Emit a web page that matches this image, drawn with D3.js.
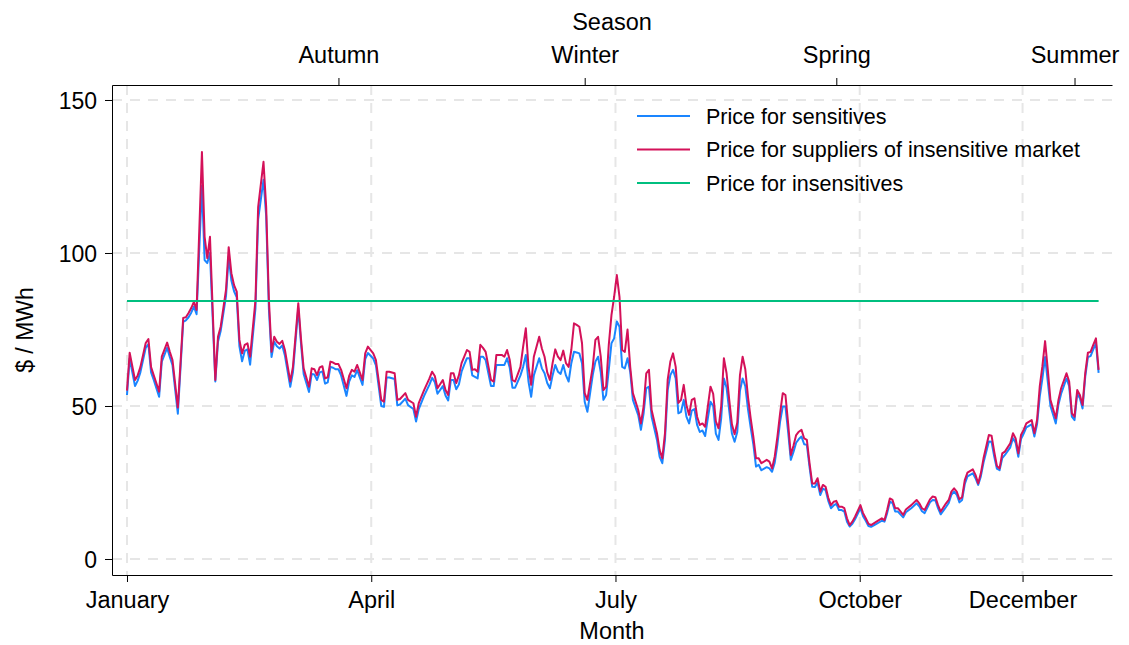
<!DOCTYPE html>
<html><head><meta charset="utf-8">
<script src="https://cdn.jsdelivr.net/npm/d3@7"></script>
<style>body{margin:0;background:#fff} text{font-family:"Liberation Sans",Arial,Helvetica,sans-serif;fill:#000}</style>
</head><body><svg id="c" width="1129" height="645"></svg>
<script>
const days = [0,1,3,4,5,7,8,9,10,12,13,15,16,17,19,21,22,23,24,25,26,28,29,30,31,33,34,35,37,38,39,40,41,42,43,44,45,46,48,49,51,52,53,54,55,56,57,58,59,61,62,64,65,66,68,69,70,71,72,73,74,75,76,77,78,79,80,82,83,84,85,86,88,89,90,92,93,95,96,97,98,100,101,102,104,105,107,108,109,111,113,114,115,116,118,119,120,121,122,123,124,125,126,127,128,129,130,131,132,133,134,136,137,138,140,141,142,143,144,145,147,148,149,150,151,152,154,155,156,157,158,159,160,161,162,163,164,165,166,167,168,169,170,171,172,174,175,176,177,178,179,180,181,182,183,184,185,186,187,188,189,191,192,193,194,195,196,198,199,200,201,202,203,204,205,206,207,208,209,210,211,212,213,214,215,216,217,218,219,220,221,222,223,224,225,226,227,228,229,230,231,232,233,234,235,236,237,239,240,241,242,243,244,245,246,247,248,249,250,251,252,253,254,255,256,257,258,259,260,261,262,263,264,265,266,267,268,269,270,271,272,274,275,276,277,278,280,282,283,284,285,286,287,288,290,291,293,295,296,297,298,300,301,302,303,304,306,307,308,309,310,311,312,313,314,316,317,318,319,320,322,323,324,325,326,327,328,330,331,332,333,334,335,336,338,339,340,341,342,343,344,345,347,348,349,351,352,353,354,355,356,357,358,359,360,361,362,363];
const suppliers = [55,67.4,58.5,60,62.7,70.6,71.9,62.7,60,54.7,66.1,70.7,67.7,65,49.5,78.8,79,80.4,82,84,81.4,133,105.3,98.3,105.3,58.5,72.6,75.9,88,101.9,93.4,89.5,87.4,71.6,67.2,70,70.5,66.1,84.6,115,129.8,115,85,67.7,72.6,71,70.3,71.3,68.3,58,62.8,83.6,72,62.3,56.3,62.3,62,60.1,62.6,63,59,59.4,64.5,64.2,63.7,63.7,61.8,55.8,59.8,61.8,61.2,63.4,58.5,67.2,69.4,67.2,65,52,51.4,61.2,61.2,60.7,52,52.3,54.2,52,50.9,46.5,50.9,55.2,59,61.2,59.8,55.8,58.5,55.2,53.6,60.7,60.7,57.5,60,64,66.1,68.3,67.7,61.8,62,61.2,70,69,67.7,58.5,58,66.7,66.7,66.1,68.3,65,58.5,58,62.8,69.4,75.4,62.8,56.9,66.1,72.6,68.8,66.1,61,58.5,64,68.5,66.1,65,68.1,64,62.8,68.3,77,76.5,75.9,70.5,54.2,52,62.8,71.6,72.6,66.1,55.2,56.3,70,79.7,85.7,92.8,85.7,68.3,67.7,75,62.8,54.2,48.7,44.3,49.8,60.7,61.8,48.7,41.1,35.6,32.9,41.1,58.5,64.5,67.2,62.8,51,52,56.9,50.3,47.1,52,52.5,46.5,43.8,44.3,43.2,49.8,56.3,54,45,42.7,50,65.6,60.7,52,44,40.8,44.5,60,66.1,62,53,46,40,32.9,32.9,31.3,32.4,31.8,29.6,33.5,40,47.6,54.2,53.6,44.3,34,37,40.5,41.6,42.2,39.4,38.9,31.3,24.7,24.7,26.4,22,24.2,23.6,20,17.6,18.7,19,17.1,17.1,16.6,13.3,11.1,12.2,13.8,17.6,15,13.3,11.5,11.1,12.2,13.3,12.7,16,19.8,19.3,16.6,16.6,14.4,16.2,17.6,19.3,18.2,16.6,16,19.5,20.4,20.2,17.6,15.5,18.2,19.3,22,23.1,22,19.5,20.2,25.8,28.2,29.3,27.5,24.7,28,32.9,40.5,40.3,35.1,30.4,29.6,34.5,35.1,37.8,41.1,39.4,34.5,40.5,42.2,44.3,45.4,41.1,45.4,56.3,63,71.2,62,52,46,52,55.8,60.7,58,47.6,46.5,55.2,53.6,50.3,60.7,67.4,67.7,70,72.1,61.8];
const sensitives = [53.6,65.5,56.5,58.3,61,69,70.2,61,58.5,53,64.5,69,66,63.3,47.5,77.5,78,79,80.5,82.5,80,122,97.7,96.7,100,58,71,74.5,86,98.8,91,87.5,85.5,69.5,64.6,68,68.5,63.5,82,111,123.9,112,82,66,71,69.5,68.8,69.8,66.5,56.3,61,82,70.5,60.5,54.6,60.5,60.3,58.5,61,61.3,57.3,57.7,62.8,62.5,62,62,60,53.3,58,60,59.5,61.7,56.9,65.3,67.3,65.5,63.3,50,49.7,59.3,59.3,58.8,50.2,50.5,52.4,50.3,49,44.9,49,53.3,57,59.2,57.8,54,56.5,53.4,51.8,58.5,58.5,55.5,57,61.2,63.5,65.6,65.6,60,59.5,59,66.1,66.1,65,56.5,56.5,63.4,63.4,63.4,65.6,62.5,56,56,60,62.8,66.7,58,53,60,65.6,62.3,60.7,57.5,55.8,60,63.4,61.2,60.5,63.4,60,58,64,67.7,67.5,67.2,64,51.4,48.1,60.1,64.5,66.1,61,52,53.6,61.8,70.5,72.1,77.6,75.9,62.8,62.3,65.6,61.2,52,47,42.2,47.5,55.8,56.3,46.5,38.9,33.4,31.3,39,55.2,60.1,61.8,59,47.6,48.1,52,46.5,44.3,48.5,49,43.8,41.5,42,40.2,46,51.4,50,41,38.9,46,59,56,48.5,41,38.3,41.5,55,59,56.5,49,43,37.5,30.2,30.8,29,30,29.6,28.5,31.5,37.5,44.9,49.8,49.8,41.5,32.4,35,38,39.2,40,37.5,37.3,30,23.6,23.5,25,20.9,23,22.5,19,16.6,17.5,18,16,16,15.5,12.2,10.6,11.5,13,16.6,14,12.5,10.8,10.5,11.5,12.5,12.2,15,18.7,18.3,15.5,15.5,13.6,15.3,16.6,18.2,17.2,15.6,15,18.5,19.3,19.2,16.6,14.6,17,18.3,21,22,21,18.5,19.3,24.5,27,28,26.4,24.2,27,31.5,38.4,38.3,33.5,29.5,29,33,34,36.5,39.5,38,33.4,39.2,41,43,44,40,44,53,59,66,58,50,44.3,50.5,54,59,56.5,46.5,45.4,54,52.5,49.2,59.5,66,66.3,68.5,70.5,60.8];
const insensitiveDays = [0, 363];
const insensitives = [84.3, 84.3];

const monthTicks = [0, 3, 6, 9, 11];
const monthLabels = ["January", "April", "July", "October", "December"];
const seasonDays = [79, 171, 265, 354];
const seasonLabels = ["Autumn", "Winter", "Spring", "Summer"];
const yTicks = [0, 50, 100, 150];
const seriesNames = ["Price for sensitives", "Price for suppliers of insensitive market", "Price for insensitives"];
const colors = ["#1a85ff", "#d41159", "#00bf7f"];

const svg = d3.select("#c");
const L = 112, R = 1112, T = 85, B = 575;
const x = d3.scaleLinear().domain([-5.6, 368]).range([L, R]);
const y = d3.scaleLinear().domain([-5.23, 154.9]).range([B, T]);
const monthDay = m => m * 365 / 12;

// grid
const grid = svg.append("g").attr("stroke", "#e6e6e6").attr("stroke-width", 2).attr("stroke-dasharray", "10,8").attr("fill", "none");
yTicks.forEach(v => grid.append("line").attr("x1", L).attr("x2", R).attr("y1", y(v)).attr("y2", y(v)));
monthTicks.forEach(m => grid.append("line").attr("x1", x(monthDay(m))).attr("x2", x(monthDay(m))).attr("y1", T).attr("y2", B));

// series
const lineGen = (xs, ys) => d3.line().x((d, i) => x(xs[i])).y((d, i) => y(ys[i]))(ys);
[[days, sensitives], [days, suppliers], [insensitiveDays, insensitives]].forEach((s, k) => {
  svg.append("path").attr("d", lineGen(s[0], s[1])).attr("fill", "none")
    .attr("stroke", colors[k]).attr("stroke-width", 2).attr("stroke-linejoin", "round");
});

// axes
const fs = "23.5px";
const ax = svg.append("g").attr("transform", `translate(0,${B})`)
  .call(d3.axisBottom(x).tickValues(monthTicks.map(monthDay)).tickFormat((d, i) => monthLabels[i]).tickSize(7).tickSizeOuter(0).tickPadding(9));
const at = svg.append("g").attr("transform", `translate(0,${T})`)
  .call(d3.axisTop(x).tickValues(seasonDays).tickFormat((d, i) => seasonLabels[i]).tickSize(7).tickSizeOuter(0).tickPadding(15));
const al = svg.append("g").attr("transform", `translate(${L},0)`)
  .call(d3.axisLeft(y).tickValues(yTicks).tickFormat(d3.format("d")).tickSize(7).tickSizeOuter(0).tickPadding(8));
[ax, at, al].forEach(g => {
  g.selectAll("text").attr("font-size", fs).attr("font-family", "Liberation Sans, Arial, sans-serif").attr("fill", "#000");
  g.selectAll("line, path").attr("stroke", "#000");
});
al.selectAll("text").attr("font-size", "23px").attr("dy", "0.35em");

// titles
svg.append("text").attr("x", 612).attr("y", 30).attr("text-anchor", "middle").attr("font-size", fs).text("Season");
svg.append("text").attr("x", 612).attr("y", 639).attr("text-anchor", "middle").attr("font-size", fs).text("Month");
svg.append("text").attr("transform", "translate(33,330) rotate(-90)").attr("text-anchor", "middle").attr("font-size", "23px").text("$ / MWh");

// legend
const lg = svg.append("g");
seriesNames.forEach((n, i) => {
  const ly = 116 + i * 33.5;
  lg.append("line").attr("x1", 637).attr("x2", 690).attr("y1", ly).attr("y2", ly).attr("stroke", colors[i]).attr("stroke-width", 2);
  lg.append("text").attr("x", 706).attr("y", ly).attr("dy", "0.35em").attr("font-size", "21.5px").text(n);
});
</script></body></html>
